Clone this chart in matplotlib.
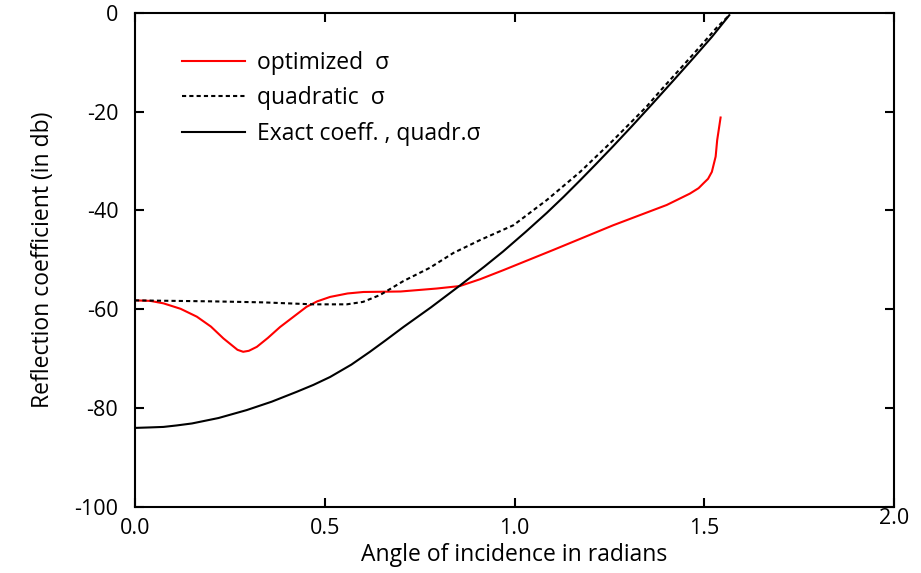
import matplotlib
matplotlib.use("Agg")
import matplotlib.pyplot as plt

# values
x_opt = [0.0, 0.04, 0.075, 0.12, 0.163, 0.20, 0.233, 0.27, 0.285, 0.30, 0.321, 0.35, 0.382,
         0.452, 0.48, 0.514, 0.56, 0.602, 0.70, 0.795, 0.856, 0.91, 0.970, 1.102, 1.260,
         1.401, 1.462, 1.485, 1.498, 1.510, 1.520, 1.530, 1.534, 1.543]
y_opt = [-58.2, -58.3, -58.8, -59.9, -61.5, -63.5, -65.9, -68.2, -68.6, -68.4, -67.6, -65.8, -63.6,
         -59.5, -58.4, -57.5, -56.8, -56.5, -56.4, -55.8, -55.3, -53.9, -52.1, -48.0, -43.0,
         -38.9, -36.6, -35.5, -34.5, -33.6, -32.2, -29.1, -25.8, -21.2]

x_quad = [0.0, 0.206, 0.337, 0.469, 0.558, 0.601, 0.646, 0.707, 0.777, 0.839, 0.909, 0.997,
          1.085, 1.173, 1.260, 1.348, 1.383, 1.471, 1.533, 1.566]
y_quad = [-58.2, -58.4, -58.6, -59.0, -59.0, -58.5, -57.1, -54.3, -51.6, -48.6, -46.0, -43.0,
          -37.9, -32.2, -25.8, -19.0, -15.9, -8.4, -3.0, -0.5]

x_exact = [0.0, 0.04, 0.075, 0.11, 0.15, 0.22, 0.294, 0.36, 0.426, 0.47, 0.514, 0.57, 0.619,
           0.66, 0.707, 0.78, 0.856, 0.92, 0.970, 1.03, 1.085, 1.13, 1.173, 1.215, 1.260,
           1.31, 1.366, 1.42, 1.471, 1.52, 1.566]
y_exact = [-84.0, -83.9, -83.8, -83.5, -83.1, -82.0, -80.4, -78.7, -76.7, -75.3, -73.7, -71.2, -68.6,
           -66.3, -63.6, -59.6, -55.2, -51.4, -48.3, -44.3, -40.5, -37.2, -33.9, -30.6, -27.0,
           -22.9, -18.2, -13.6, -9.2, -4.9, -0.5]

labels = ["optimized  σ", "quadratic  σ", "Exact coeff. , quadr.σ"]
xticks = [0.0, 0.5, 1.0, 1.5, 2.0]
yticks = [-100, -80, -60, -40, -20, 0]

plt.rcParams['font.family'] = ['Open Sans', 'DejaVu Sans']
plt.rcParams['font.size'] = 16.5

fig = plt.figure(figsize=(9.21, 5.73), dpi=100)
ax = fig.add_axes([0.1466, 0.1152, 0.8241, 0.8626])

ax.plot(x_opt, y_opt, color="red", lw=1.5, label=labels[0])
ax.plot(x_quad, y_quad, color="black", lw=1.5, dashes=(2, 1.5), label=labels[1])
ax.plot(x_exact, y_exact, color="black", lw=1.5, label=labels[2])

ax.set_xlim(0, 2.0)
ax.set_ylim(-100, 0)
ax.set_xticks(xticks)
ax.set_yticks(yticks)
ax.set_xticklabels(["0.0", "0.5", "1.0", "1.5", ""])
ax.set_yticklabels([str(v) for v in yticks])
ax.tick_params(direction="in", length=6.5, width=1.5, top=True, right=True, pad=8,
               labelsize=15.5)
ax.tick_params(axis="y", pad=12)
for s in ax.spines.values():
    s.set_linewidth(1.5)

# the last x label sits a bit higher in the original
ax.annotate("2.0", xy=(1, 0), xycoords="axes fraction", xytext=(0, -1),
            textcoords="offset points", ha="center", va="top", fontsize=15.5)

ax.set_xlabel("Angle of incidence in radians", labelpad=3)
ax.set_ylabel("Reflection coefficient (in db)", labelpad=14)

ax.legend(loc="upper left", frameon=False, handlelength=2.75, handletextpad=0.5,
          labelspacing=0.5, bbox_to_anchor=(0.035, 0.965))

fig.savefig("out.png", dpi=100)
